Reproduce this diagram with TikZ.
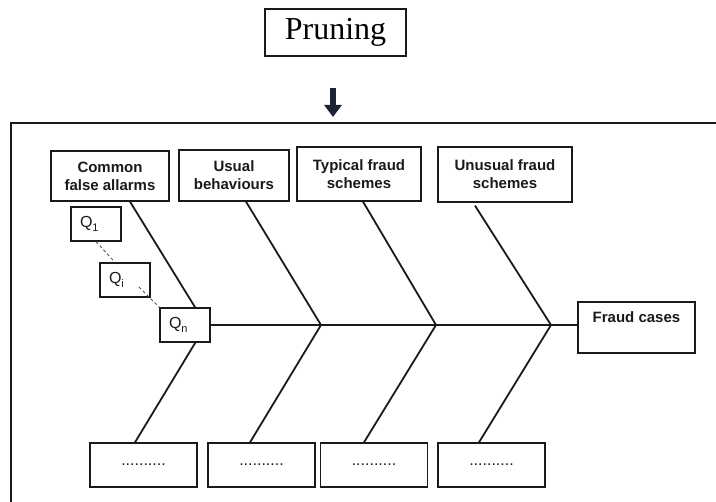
\documentclass[tikz,border=0pt]{standalone}
\usepackage{fontspec}
\setmainfont{Liberation Serif}
\newfontfamily\arial{Liberation Sans}
\usetikzlibrary{arrows.meta,backgrounds}
\definecolor{ink}{HTML}{1A1A1A}
\definecolor{navy}{HTML}{1C2333}
\newcommand{\qsub}[1]{\raisebox{-0.3em}{\fontsize{11}{11}\selectfont #1}}
\tikzset{
  box/.style={draw=ink, line width=1.3pt, fill=white, inner sep=0pt},
  catbox/.style={box, align=center, font=\arial\fontsize{15}{18}\selectfont\bfseries, text=ink},
  qbox/.style={box, minimum width=50pt, minimum height=34pt, text width=32pt, align=left,
               font=\arial\fontsize{16}{16}\selectfont, text=ink},
  detbox/.style={box, minimum width=107pt, minimum height=44pt,
                 font=\arial\fontsize{16}{16}\selectfont, text=ink},
  bone/.style={draw=ink, line width=1.8pt},
  chain/.style={draw=ink!75, line width=0.9pt, dash pattern=on 3pt off 2.5pt},
  bigarrow/.style={draw=navy, line width=5.5pt, -{Triangle[width=17pt,length=12pt]}}
}
\begin{document}
\begin{tikzpicture}[x=1pt,y=-1pt]
\useasboundingbox (0,0) rectangle (716,502);

% pruning step feeding the diagram
\node[box, minimum width=141pt, minimum height=47pt, font=\fontsize{32}{34}\selectfont]
  (prun) at (335.5,32.5) {Pruning};
\coordinate (arrS) at (333,88);
\coordinate (arrE) at (333,117);
\draw[bigarrow] (arrS) -- (arrE);

% outer frame
\draw[draw=ink, line width=2.5pt] (720,123) -- (11,123) -- (11,506);

% category boxes
\node[catbox, minimum width=118pt, minimum height=50pt] (cfa) at (110,176) {Common\\false allarms};
\node[catbox, minimum width=110pt, minimum height=51pt] (ub)  at (234,175.5) {Usual\\behaviours};
\node[catbox, minimum width=124pt, minimum height=54pt] (tfs) at (359,174) {Typical fraud\\schemes};
\node[catbox, minimum width=134pt, minimum height=55pt] (ufs) at (505,174.5) {Unusual fraud\\schemes};

% effect box
\node[box, minimum width=117pt, minimum height=51pt,
      label={[anchor=north, yshift=-7pt, font=\arial\fontsize{15}{18}\selectfont\bfseries, text=ink]north:Fraud cases}]
  (fc) at (636.5,327.5) {};

% query chain
\node[qbox] (q1) at (96,224) {Q\qsub{1}};
\node[qbox] (qi) at (125,280) {Q\qsub{i}};
\node[qbox] (qn) at (185,325) {Q\qsub{n}};

% detail boxes
\node[detbox] (b1) at (143.5,465) {..........};
\node[detbox] (b2) at (261.5,465) {..........};
\node[detbox] (b3) at (374,465)   {..........};
\node[detbox] (b4) at (491.5,465) {..........};

% joints on the spine
\coordinate (v1) at (206,325);
\coordinate (v2) at (321,325);
\coordinate (v3) at (436,325);
\coordinate (v4) at (551,325);
\coordinate (c1) at ([xshift=14pt,yshift=-7pt]qi.center);

\begin{pgfonlayer}{background}
  \draw[bone] (qn.east) -- (fc.west |- qn.east);
  \draw[bone] ([xshift=20pt]cfa.south) -- (v1) -- ([xshift=-8.5pt]b1.north);
  \draw[bone] ([xshift=12pt]ub.south)  -- (v2) -- ([xshift=-11.5pt]b2.north);
  \draw[bone] ([xshift=4pt]tfs.south)  -- (v3) -- ([xshift=-10pt]b3.north);
  \draw[bone] ([xshift=-30pt,yshift=-3pt]ufs.south) -- (v4) -- ([xshift=-12.5pt]b4.north);
\end{pgfonlayer}

\draw[chain] (q1.south) -- ([xshift=-10pt]qi.north);
\draw[chain] (c1) -- (qn.north west);
\end{tikzpicture}
\end{document}
